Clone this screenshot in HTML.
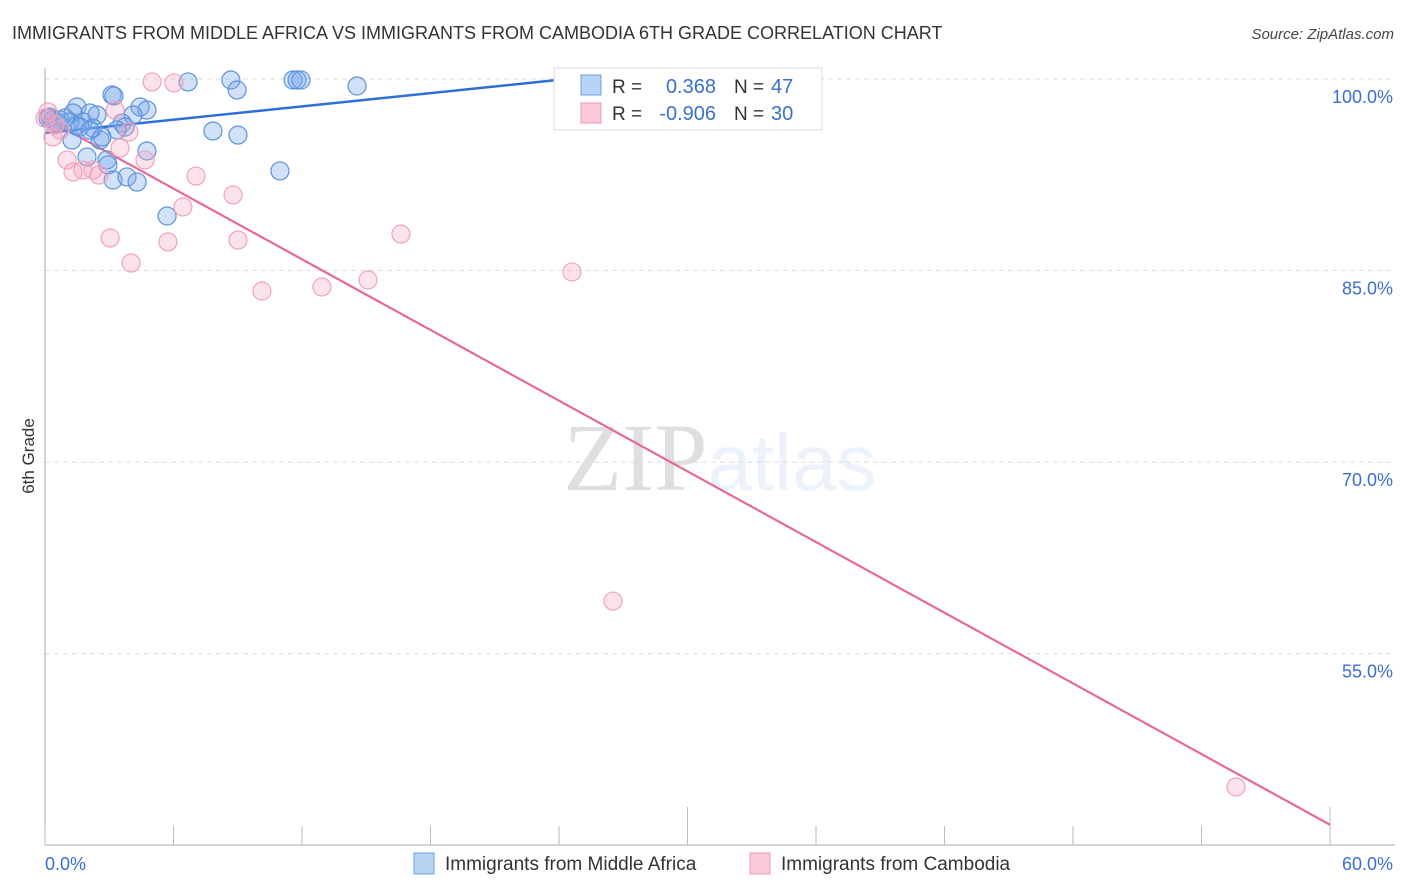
<!DOCTYPE html>
<html><head><meta charset="utf-8"><style>
body{margin:0;background:#fff;font-family:"Liberation Sans",sans-serif;}
svg{display:block}
</style></head><body>
<svg id="chart" width="1406" height="892" viewBox="0 0 1406 892">
<text x="12" y="39" font-size="18" fill="#333">IMMIGRANTS FROM MIDDLE AFRICA VS IMMIGRANTS FROM CAMBODIA 6TH GRADE CORRELATION CHART</text>
<text x="1394" y="39" font-size="15" fill="#444" text-anchor="end" font-style="italic">Source: ZipAtlas.com</text>
<text x="720" y="490" font-size="96" text-anchor="middle" fill="#000" opacity="0.12" font-family="Liberation Serif,serif">ZIP<tspan fill="#4a8ad9" opacity="0.9" font-family="Liberation Sans,sans-serif" font-size="80">atlas</tspan></text>
<text transform="translate(34,456) rotate(-90)" font-size="17" fill="#333" text-anchor="middle">6th Grade</text>
<g id="grid"></g>
<g id="axes"></g>
<g id="trend"></g>
<g id="points"></g>
<g>
<rect x="554" y="68" width="268" height="62" fill="#fff" stroke="#ddd"/>
<rect x="581" y="75" width="20" height="20" fill="#b8d4f5" stroke="#6a9ee0"/>
<rect x="581" y="103" width="20" height="20" fill="#fbcad8" stroke="#eb9ab5"/>
<text x="612" y="93" font-size="19" fill="#333">R =</text>
<text x="716" y="93" font-size="20" fill="#3a6fd0" text-anchor="end">0.368</text>
<text x="734" y="93" font-size="19" fill="#333">N =</text>
<text x="771" y="93" font-size="20" fill="#3a6fd0">47</text>
<text x="612" y="120" font-size="19" fill="#333">R =</text>
<text x="716" y="120" font-size="20" fill="#3a6fd0" text-anchor="end">-0.906</text>
<text x="734" y="120" font-size="19" fill="#333">N =</text>
<text x="771" y="120" font-size="20" fill="#3a6fd0">30</text>
</g>
<g>
<rect x="414" y="853" width="20" height="21" fill="#b8d4f5" stroke="#6a9ee0"/>
<text x="445" y="870" font-size="19" fill="#333">Immigrants from Middle Africa</text>
<rect x="750" y="853" width="20" height="21" fill="#fbcad8" stroke="#eb9ab5"/>
<text x="781" y="870" font-size="19" fill="#333">Immigrants from Cambodia</text>
</g>
</svg>
<script>
const blueX=[6.68,8.68,8.97,11.58,11.77,11.95,14.57,3.13,3.22,1.49,4.44,4.76,2.43,2.10,1.31,4.11,0.23,0.37,0.70,1.17,1.77,3.60,3.74,2.24,3.36,7.84,9.01,2.57,1.26,1.96,4.76,2.89,2.94,10.97,3.18,3.83,4.30,5.70,0.56,2.66,1.45,1.63,25.54,0.14,0.93,0.47,2.10];
const blueY=[99.77,99.92,99.14,99.92,99.92,99.92,99.45,98.75,98.67,97.81,97.81,97.57,97.18,97.34,97.34,97.18,97.02,96.79,96.79,96.63,96.63,96.55,96.24,96.16,96.01,95.93,95.61,95.22,95.22,93.89,94.36,93.66,93.27,92.80,92.09,92.33,91.93,89.27,96.63,95.46,96.32,96.24,99.92,96.95,96.95,96.40,96.0];
const pinkX=[5.00,6.02,3.27,3.92,0.37,3.50,4.67,1.03,1.31,1.77,2.24,2.52,7.05,8.78,6.44,3.04,5.74,9.01,4.02,16.62,10.13,12.93,15.08,24.61,26.52,55.61,0,0.47,0.70,0.14];
const pinkY=[99.77,99.69,97.57,95.85,95.46,94.60,93.66,93.66,92.72,92.87,92.87,92.48,92.40,90.92,89.98,87.55,87.24,87.39,85.59,87.86,83.40,83.71,84.26,84.89,59.12,44.56,96.95,96.40,96.01,97.42];
const blueTrendX=[0,23.8];
const blueTrendY=[95.77,99.9];
const pinkTrendX=[0,60];
const pinkTrendY=[96.95,41.6];
const yTicks=[100,85,70,55];
const yTickLabels=["100.0%","85.0%","70.0%","55.0%"];
const xTicks=[0,6,12,18,24,30,36,42,48,54,60];
const xLabels=["0.0%","60.0%"];
const NS="http://www.w3.org/2000/svg";
function sx(v){return 45+v/60*1285;}
function sy(v){return 79+(100-v)*12.77;}
function mk(tag,attrs,parent){const e=document.createElementNS(NS,tag);for(const k in attrs)e.setAttribute(k,attrs[k]);parent.appendChild(e);return e;}
const grid=document.getElementById('grid'),axes=document.getElementById('axes'),trend=document.getElementById('trend'),pts=document.getElementById('points');
yTicks.forEach((t,i)=>{
 const l=mk('line',{x1:45,x2:1392,y1:sy(t),y2:sy(t),stroke:'#ddd','stroke-dasharray':'5,4'},grid);
 
 
 const tx=mk('text',{x:1393,y:sy(t)+24,'font-size':18,fill:'#3a6fd0','text-anchor':'end'},grid);
 tx.textContent=yTickLabels[i];
 
 
});
const ya=mk('line',{x1:45,x2:45,y1:68,y2:845,stroke:'#aaa'},axes);


const xa=mk('line',{x1:45,x2:1395,y1:845,y2:845,stroke:'#aaa'},axes);


xTicks.forEach((t,i)=>{
 const tall=(i===5||i===10);
 const l=mk('line',{x1:sx(t),x2:sx(t),y1:tall?807:826,y2:845,stroke:'#bbb'},axes);
 
 
});
const xl0=mk('text',{x:45,y:870,'font-size':18,fill:'#3a6fd0'},axes);xl0.textContent=xLabels[0];


const xl1=mk('text',{x:1393,y:870,'font-size':18,fill:'#3a6fd0','text-anchor':'end'},axes);xl1.textContent=xLabels[1];


blueX.forEach((x,i)=>{
 const c=mk('circle',{cx:sx(x),cy:sy(blueY[i]),r:9,fill:'rgba(120,170,235,0.35)',stroke:'#5d93dc','stroke-width':1.2},pts);
 
 
});
pinkX.forEach((x,i)=>{
 const c=mk('circle',{cx:sx(x),cy:sy(pinkY[i]),r:9,fill:'rgba(245,160,190,0.3)',stroke:'#f0a3bc','stroke-width':1.2},pts);
 
 
});
const bt=mk('line',{x1:sx(blueTrendX[0]),y1:sy(blueTrendY[0]),x2:sx(blueTrendX[1]),y2:sy(blueTrendY[1]),stroke:'#2e6fd6','stroke-width':2.5},trend);


const pt=mk('line',{x1:sx(pinkTrendX[0]),y1:sy(pinkTrendY[0]),x2:sx(pinkTrendX[1]),y2:sy(pinkTrendY[1]),stroke:'#e8689a','stroke-width':2.2},trend);


</script>
</body></html>
